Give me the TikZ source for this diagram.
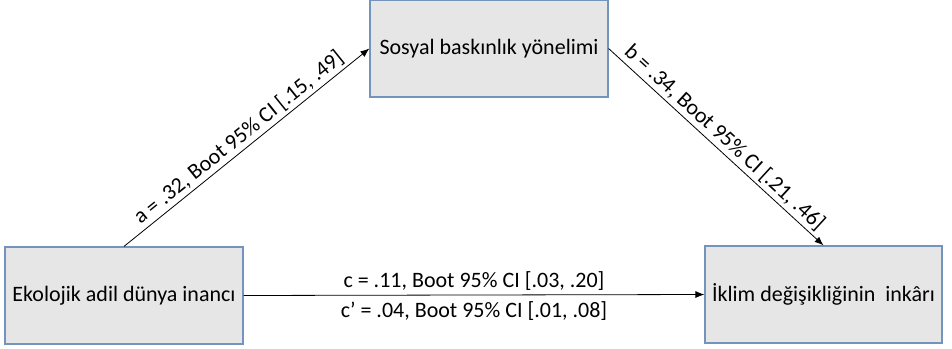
\documentclass[tikz,border=0pt]{standalone}
\usepackage{fontspec}
\usetikzlibrary{arrows.meta}
\setmainfont{Carlito}
\definecolor{boxfill}{RGB}{230,230,230}
\definecolor{boxline}{RGB}{115,148,190}
\begin{document}
\begin{tikzpicture}[x=1pt, y=-1pt,
	varbox/.style={draw=boxline, fill=boxfill, line width=1.2pt, minimum width=238pt, minimum height=97pt, inner sep=0pt, font=\fontsize{22}{26}\selectfont},
	path/.style={-{Latex[length=9pt, width=7pt]}, line width=0.8pt},
	lbl/.style={font=\fontsize{22}{26}\selectfont, inner sep=3pt}]
				\useasboundingbox (0,0) rectangle (952,348);
				
				%variables
				\node[varbox] (sbo) at (489, 48.5){Sosyal baskınlık yönelimi};
				\node[varbox] (eadi) at (124, 295.5){Ekolojik adil dünya inancı};
				\node[varbox, minimum width=237pt] (iklim) at (823.5, 294.5){İklim değişikliğinin~ inkârı};
				
				%paths
				\draw[path] (eadi.north) -- node[lbl, sloped, above]{a = .32, Boot 95\% CI [.15, .49]} (sbo.west);
				\draw[path] (sbo.east) -- node[lbl, sloped, above]{b = .34, Boot 95\% CI [.21, .46]} (iklim.north);
				\draw[path] (eadi.east) -- node[lbl, above, inner sep=4pt]{c = .11, Boot 95\% CI [.03, .20]}
					node[lbl, below, inner sep=6pt]{c' = .04, Boot 95\% CI [.01, .08]} (iklim.west);
\end{tikzpicture}
\end{document}
